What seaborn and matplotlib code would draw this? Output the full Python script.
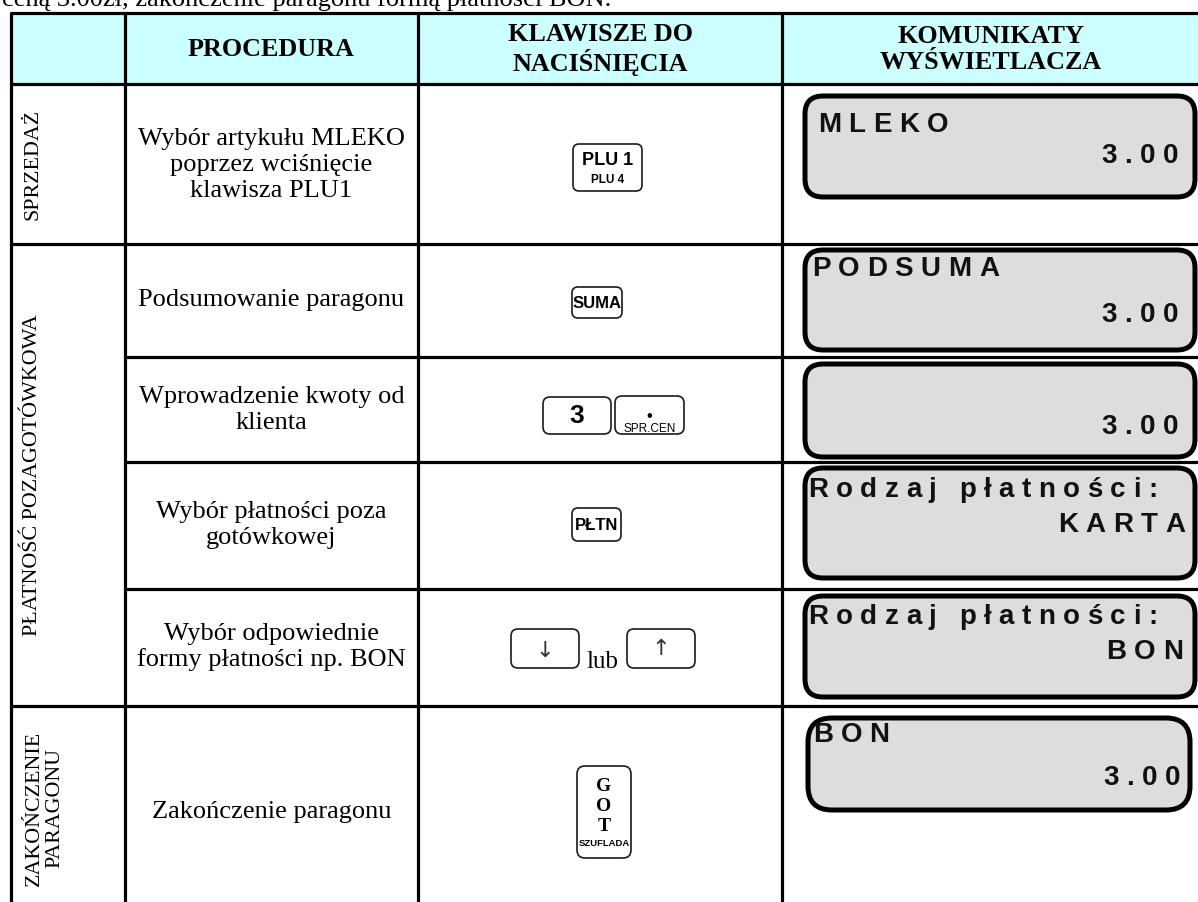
"""
Cash register procedure table: sale of MLEKO paid with non-cash form (BON)
"""

import numpy as np
import pandas as pd
import matplotlib.pyplot as plt
import seaborn as sns
from matplotlib.patches import FancyBboxPatch, Rectangle

sns.set_theme(style="white")
plt.rcParams['font.family'] = ['Liberation Serif', 'DejaVu Serif']
plt.rcParams['text.color'] = 'black'

# ---- table content ----
intro_text = "ceną 3.00zł, zakończenie paragonu formą płatności BON."
headers = ["", "PROCEDURA", "KLAWISZE DO\nNACIŚNIĘCIA", "KOMUNIKATY\nWYŚWIETLACZA"]
sections = ["SPRZEDAŻ", "PŁATNOŚĆ POZAGOTÓWKOWA", "ZAKOŃCZENIE\nPARAGONU"]
section_steps = [1, 4, 1]
procedures = [
    "Wybór artykułu MLEKO\npoprzez wciśnięcie\nklawisza PLU1",
    "Podsumowanie paragonu",
    "Wprowadzenie kwoty od\nklienta",
    "Wybór płatności poza\ngotówkowej",
    "Wybór odpowiednie\nformy płatności np. BON",
    "Zakończenie paragonu",
]
keys = ["PLU1", "SUMA", "3+.", "PLTN", "ARROWS", "GOT"]
display_top = ["MLEKO", "PODSUMA", "", "Rodzaj płatności:", "Rodzaj płatności:", "BON"]
display_bottom = ["3.00", "3.00", "3.00", "KARTA", "BON", "3.00"]

# ---- layout (pixels) ----
W, H = 1198, 902
col_x = [11, 125, 418, 782, 1200]
header_y = (13, 84)
row_y = [84, 244, 357, 462, 589, 706, 910]
proc_y = [165, 300, 410, 525, 647, 812]
# display boxes: x0, x1, y0, y1, baseline top line, baseline bottom line
disp_geom = [
    (805, 1195, 96, 197, 132, 163),
    (805, 1195, 250, 350, 276, 322),
    (805, 1195, 364, 457, None, 434),
    (805, 1195, 468, 578, 497, 532),
    (805, 1195, 596, 697, 624, 659),
    (808, 1190, 718, 810, 742, 785),
]
disp_left = [818, 812, 812, 808, 808, 813]
disp_right = [1178, 1178, 1178, 1185, 1183, 1180]

SERIF = 'Liberation Serif'
SANS = 'Liberation Sans'

fig = plt.figure(figsize=(W / 100, H / 100), dpi=100)
ax = fig.add_axes([0, 0, 1, 1])
ax.set_xlim(0, W)
ax.set_ylim(H, 0)
ax.axis('off')
renderer = fig.canvas.get_renderer()

LW = 2.3  # table grid line width

# intro line, cut by the top edge as in the scanned page
ax.text(2, 6, intro_text, fontsize=19, family=SERIF, va='baseline', ha='left')

# header background
ax.add_patch(Rectangle((col_x[0], header_y[0]), col_x[-1] - col_x[0],
                       header_y[1] - header_y[0], facecolor='#CCFFFF', edgecolor='none'))

# grid lines
for x in col_x[:-1]:
    ax.plot([x, x], [header_y[0], H + 5], color='black', lw=LW, solid_capstyle='butt')
ax.plot([col_x[0], W + 5], [header_y[0], header_y[0]], color='black', lw=LW)
ax.plot([col_x[0], W + 5], [header_y[1], header_y[1]], color='black', lw=LW)
# row lines: section rows span the first column, step rows start at column 2
sec_edges = np.cumsum([0] + section_steps)
for i, y in enumerate(row_y[1:-1], start=1):
    x_start = col_x[0] if i in sec_edges else col_x[1]
    ax.plot([x_start, W + 5], [y, y], color='black', lw=LW)

# header texts
for i, h in enumerate(headers):
    if not h:
        continue
    cx = (col_x[i] + col_x[i + 1]) / 2
    ax.text(cx, sum(header_y) / 2 + 1, h, fontsize=18.8, family=SERIF, weight='bold',
            ha='center', va='center', linespacing=1.12)

# section labels (rotated)
for s, a, b in zip(sections, sec_edges[:-1], sec_edges[1:]):
    cy = (row_y[a] + row_y[b]) / 2
    n_lines = s.count('\n') + 1
    cx = 33 + 12 * (n_lines - 1)
    ax.text(cx, cy, s, fontsize=15.8, family=SERIF, rotation=90,
            ha='center', va='center', linespacing=1.1, multialignment='center')

# procedure texts
proc_cx = (col_x[1] + col_x[2]) / 2
for p, y in zip(procedures, proc_y):
    ax.text(proc_cx, y, p, fontsize=19, family=SERIF, ha='center', va='center',
            linespacing=1.22, multialignment='center')


def key_box(x0, x1, y0, y1, r=6):
    ax.add_patch(FancyBboxPatch((x0, y0), x1 - x0, y1 - y0,
                                boxstyle=f"round,pad=0,rounding_size={r}",
                                facecolor='white', edgecolor='#1a1a1a', lw=1.2))


def draw_key(kind):
    if kind == "PLU1":
        key_box(573, 642, 144, 191)
        ax.text(607.5, 165, "PLU 1", fontsize=13, family=SANS, weight='bold',
                ha='center', va='baseline')
        ax.text(607.5, 183, "PLU 4", fontsize=8.5, family=SANS, weight='bold',
                ha='center', va='baseline')
    elif kind == "SUMA":
        key_box(572, 622, 287, 318)
        ax.text(597, 303, "SUMA", fontsize=12, family=SANS, weight='bold',
                ha='center', va='center')
    elif kind == "3+.":
        key_box(543, 611, 397, 434, r=7)
        ax.text(577, 416, "3", fontsize=19, family=SANS, weight='bold',
                ha='center', va='center')
        key_box(615, 684, 396, 434, r=7)
        ax.text(649.5, 416, "•", fontsize=12, family=SANS, ha='center', va='center')
        ax.text(649.5, 432, "SPR.CEN", fontsize=8.5, family=SANS,
                ha='center', va='baseline')
    elif kind == "PLTN":
        key_box(572, 621, 508, 541)
        ax.text(596.5, 525, "PŁTN", fontsize=12, family=SANS, weight='bold',
                ha='center', va='center')
    elif kind == "ARROWS":
        key_box(511, 579, 629, 668, r=7)
        ax.text(545, 651, "↓", fontsize=16, family='DejaVu Sans', color='#333333',
                ha='center', va='center')
        ax.text(602, 668, "lub", fontsize=18, family=SERIF, ha='center', va='baseline')
        key_box(627, 695, 629, 668, r=7)
        ax.text(661, 649, "↑", fontsize=16, family='DejaVu Sans', color='#333333',
                ha='center', va='center')
    elif kind == "GOT":
        key_box(577, 631, 766, 858, r=8)
        for letter, yb in zip("GOT", [791, 811, 831]):
            ax.text(604, yb, letter, fontsize=14, family=SERIF, weight='bold',
                    ha='center', va='baseline')
        ax.text(604, 846, "SZUFLADA", fontsize=6.8, family=SANS, weight='bold',
                ha='center', va='baseline')


for k in keys:
    draw_key(k)

DISP_SIZE = 20
DISP_GAP = 7.5


def char_widths(s):
    ws = []
    for c in s:
        if c == ' ':
            ws.append(DISP_SIZE * 100 / 72 * 0.278)
            continue
        t = ax.text(0, 0, c, fontsize=DISP_SIZE, family=SANS, weight='bold')
        ws.append(t.get_window_extent(renderer).width)
        t.remove()
    return ws


def spaced_text(s, y, x_left=None, x_right=None):
    ws = char_widths(s)
    total = sum(ws) + DISP_GAP * (len(s) - 1)
    x = x_left if x_left is not None else x_right - total
    for c, w in zip(s, ws):
        if c != ' ':
            ax.text(x, y, c, fontsize=DISP_SIZE, family=SANS, weight='bold',
                    ha='left', va='baseline', color='#111111')
        x += w + DISP_GAP


# display boxes
for i, (x0, x1, y0, y1, yb1, yb2) in enumerate(disp_geom):
    r = 24 if i == len(disp_geom) - 1 else 18
    ax.add_patch(FancyBboxPatch((x0, y0), x1 - x0, y1 - y0,
                                boxstyle=f"round,pad=0,rounding_size={r}",
                                facecolor='#DDDDDD', edgecolor='black', lw=3.6))
    if display_top[i] and yb1 is not None:
        spaced_text(display_top[i], yb1, x_left=disp_left[i])
    if display_bottom[i]:
        spaced_text(display_bottom[i], yb2, x_right=disp_right[i])

plt.savefig('out.png', dpi=100)
plt.close()
